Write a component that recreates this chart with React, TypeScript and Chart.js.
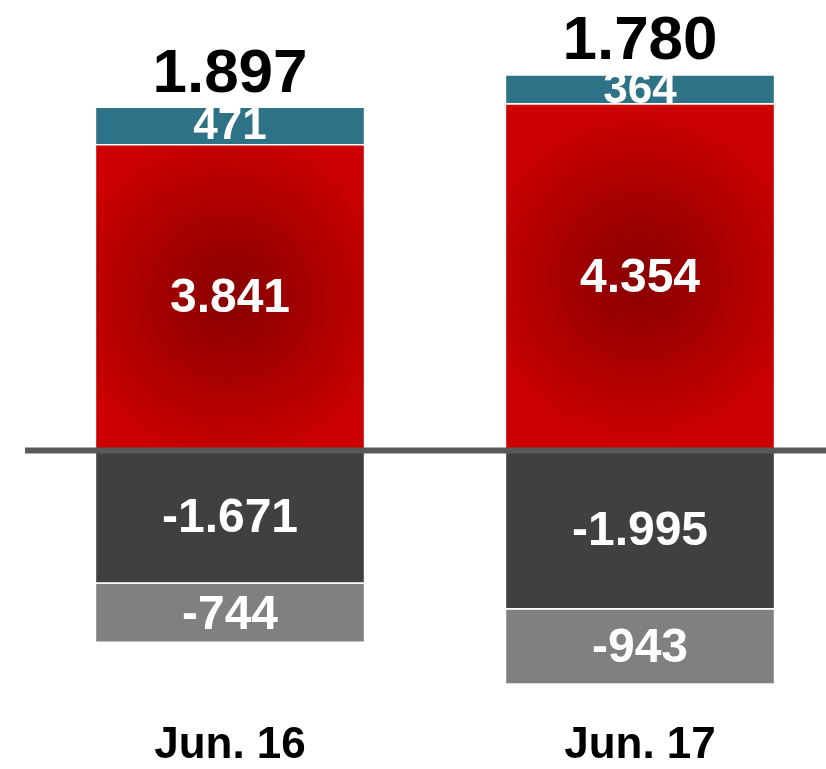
import React, { useEffect, useRef } from "react";
import { Chart, registerables } from "chart.js";

Chart.register(...registerables);

const categories = ["Jun. 16", "Jun. 17"];
const redValues = [3841, 4354];
const tealValues = [471, 364];
const darkValues = [-1671, -1995];
const lightValues = [-744, -943];

const FONT = '"Liberation Sans", Arial, sans-serif';

function fmt(v: number): string {
  const s = Math.abs(Math.round(v)).toString().replace(/\B(?=(\d{3})+(?!\d))/g, ".");
  return (v < 0 ? "-" : "") + s;
}

const overlayPlugin = {
  id: "overlay",
  afterDatasetsDraw(chart: any) {
    const ctx = chart.ctx;
    const yScale = chart.scales.y;
    const area = chart.chartArea;
    const y0 = yScale.getPixelForValue(0);
    ctx.save();
    // zero line
    ctx.strokeStyle = "#595959";
    ctx.lineWidth = 6;
    ctx.beginPath();
    ctx.moveTo(area.left, y0);
    ctx.lineTo(chart.width, y0);
    ctx.stroke();

    // segment labels
    ctx.textAlign = "center";
    ctx.textBaseline = "middle";
    ctx.fillStyle = "#ffffff";
    chart.data.datasets.forEach((ds: any, di: number) => {
      const meta = chart.getDatasetMeta(di);
      const size = di === 1 ? 44 : 48;
      ctx.font = `bold ${size}px ${FONT}`;
      meta.data.forEach((el: any, i: number) => {
        const cy = (el.y + el.base) / 2;
        ctx.fillText(fmt(ds.data[i]), el.x, cy + 2);
      });
    });

    // totals
    ctx.fillStyle = "#000000";
    ctx.font = `bold 62px ${FONT}`;
    const tealMeta = chart.getDatasetMeta(1);
    categories.forEach((_, i) => {
      const total = redValues[i] + tealValues[i] + darkValues[i] + lightValues[i];
      const el = tealMeta.data[i];
      ctx.fillText(fmt(total), el.x, el.y - 32);
    });
    ctx.restore();
  },
};

export default function App() {
  const ref = useRef<HTMLCanvasElement | null>(null);

  useEffect(() => {
    if (!ref.current) return;
    const redFill = (c: any) => {
      const chart = c.chart;
      if (c.type !== "data" || !chart.chartArea) return "#c00000";
      const x = chart.scales.x.getPixelForValue(c.dataIndex);
      const yA = chart.scales.y.getPixelForValue(0);
      const yB = chart.scales.y.getPixelForValue(redValues[c.dataIndex]);
      const cy = (yA + yB) / 2;
      const g = chart.ctx.createRadialGradient(x, cy, 0, x, cy, 170);
      g.addColorStop(0, "#870000");
      g.addColorStop(1, "#cc0000");
      return g;
    };
    const chart = new Chart(ref.current, {
      type: "bar",
      data: {
        labels: categories,
        datasets: [
          { label: "red", data: redValues, backgroundColor: redFill, borderColor: "#ffffff", borderWidth: 1.5 },
          { label: "teal", data: tealValues, backgroundColor: "#2d7286", borderColor: "#ffffff", borderWidth: 1.5 },
          { label: "dark", data: darkValues, backgroundColor: "#404040", borderColor: "#ffffff", borderWidth: 1.5 },
          { label: "light", data: lightValues, backgroundColor: "#808080", borderColor: "#ffffff", borderWidth: 1.5 },
        ],
      },
      options: {
        responsive: false,
        animation: false,
        layout: { padding: { left: 25, right: 0, top: 0, bottom: 0 } },
        plugins: { legend: { display: false }, tooltip: { enabled: false } },
        datasets: { bar: { barPercentage: 0.66, categoryPercentage: 1 } },
        scales: {
          x: {
            stacked: true,
            grid: { display: false, drawTicks: false },
            border: { display: false },
            ticks: { color: "#000000", padding: 3, font: { family: FONT, size: 44, weight: "bold" } },
          },
          y: {
            stacked: true,
            display: false,
            min: -3333,
            max: 5648,
          },
        },
      },
      plugins: [overlayPlugin],
    });
    return () => chart.destroy();
  }, []);

  return (
    <div style={{ position: "fixed", left: 0, top: 0, width: 826, height: 769, overflow: "hidden", background: "#ffffff" }}>
      <canvas ref={ref} width={845} height={775} style={{ display: "block" }} />
    </div>
  );
}
